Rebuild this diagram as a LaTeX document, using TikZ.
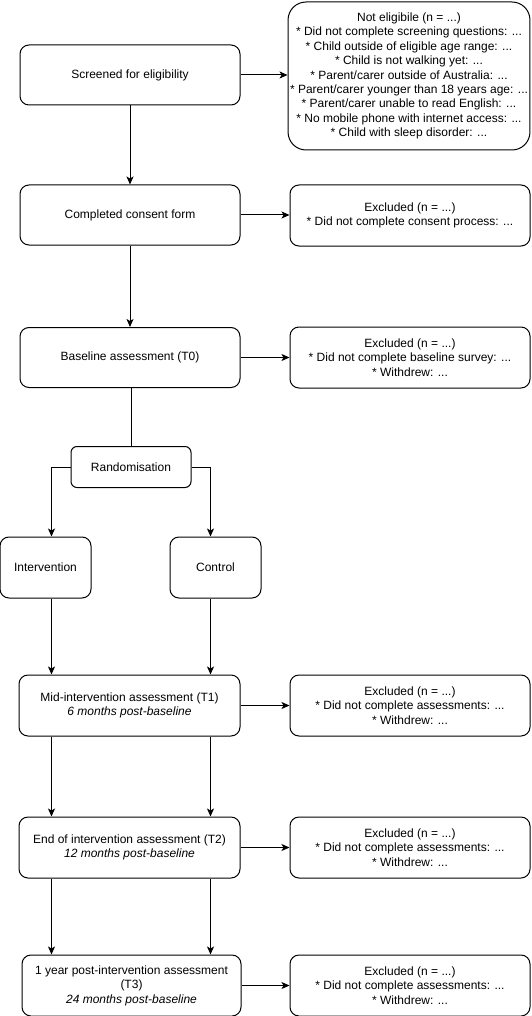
\documentclass[tikz,border=0pt]{standalone}
\usepackage{fontspec}
\setmainfont{Liberation Sans}
\usetikzlibrary{arrows.meta}
\begin{document}
\begin{tikzpicture}[x=1pt,y=-1pt,
  box/.style={draw,line width=1pt,rounded corners=9pt,align=center,inner sep=2pt,
    font=\fontsize{12}{14.4}\selectfont},
  arr/.style={line width=1pt,-{Stealth[length=8pt,width=7pt,inset=2pt]}},
  ln/.style={line width=1pt}]
\useasboundingbox (0,0) rectangle (531,1016);
% main column
\node[box,minimum width=220pt,minimum height=60pt] (screen) at (130,75) {Screened for eligibility};
\node[box,minimum width=220pt,minimum height=60pt] (consent) at (130,215) {Completed consent form};
\node[box,minimum width=220pt,minimum height=60pt] (baseline) at (130,357.5) {Baseline assessment (T0)};
\node[box,rounded corners=6pt,minimum width=120pt,minimum height=41pt] (rand) at (131,467) {Randomisation};
\node[box,minimum width=91pt,minimum height=61pt] (interv) at (45.5,567.5) {Intervention};
\node[box,minimum width=91pt,minimum height=61pt] (control) at (215.5,567.5) {Control};
\node[box,minimum width=221pt,minimum height=61pt] (mid) at (129.5,705.5) {Mid-intervention assessment (T1)\\\textit{6 months post-baseline}};
\node[box,minimum width=221pt,minimum height=61pt] (endi) at (129.5,847.5) {End of intervention assessment (T2)\\\textit{12 months post-baseline}};
\node[box,minimum width=219pt,minimum height=61pt] (post) at (131.5,985.5) {1 year post-intervention assessment\\(T3)\\\textit{24 months post-baseline}};
% side column
\node[box,rounded corners=18pt,minimum width=238pt,minimum height=148pt] (nelig) at (409,76) {Not eligibile (n = ...)\\
* Did not complete screening questions: ...\\
* Child outside of eligible age range: ...\\
* Child is not walking yet: ...\\
* Parent/carer outside of Australia: ...\\
* Parent/carer younger than 18 years age: ...\\
* Parent/carer unable to read English: ...\\
* No mobile phone with internet access: ...\\
* Child with sleep disorder: ...};
\node[box,minimum width=240pt,minimum height=61pt] (ex1) at (410,215.5) {Excluded (n = ...)\\* Did not complete consent process: ...};
\node[box,minimum width=240pt,minimum height=61pt] (ex2) at (410,357.5) {Excluded (n = ...)\\* Did not complete baseline survey: ...\\* Withdrew: ...};
\node[box,minimum width=240pt,minimum height=61pt] (ex3) at (410,705.5) {Excluded (n = ...)\\* Did not complete assessments: ...\\* Withdrew: ...};
\node[box,minimum width=240pt,minimum height=61pt] (ex4) at (410,847.5) {Excluded (n = ...)\\* Did not complete assessments: ...\\* Withdrew: ...};
\node[box,minimum width=240pt,minimum height=61pt] (ex5) at (410,985.5) {Excluded (n = ...)\\* Did not complete assessments: ...\\* Withdrew: ...};
% lanes
\coordinate (laneL) at (51.5,0);
\coordinate (laneR) at (210.5,0);
% connectors
\draw[arr] (screen.east) -- (screen.east -| nelig.west);
\draw[arr] (consent.east) -- (consent.east -| ex1.west);
\draw[arr] (baseline.east) -- (baseline.east -| ex2.west);
\draw[arr] (mid.east) -- (mid.east -| ex3.west);
\draw[arr] (endi.east) -- (endi.east -| ex4.west);
\draw[arr] (post.east) -- (post.east -| ex5.west);
\draw[arr] (screen) -- (consent);
\draw[arr] (consent) -- (baseline);
\draw[ln] (baseline.south -| rand.north) -- (rand.north);
\draw[arr] (rand.west) -| (interv.north -| laneL);
\draw[arr] (rand.east) -| (control.north -| laneR);
\draw[arr] (interv.south -| laneL) -- (mid.north -| laneL);
\draw[arr] (control.south -| laneR) -- (mid.north -| laneR);
\draw[arr] (mid.south -| laneL) -- (endi.north -| laneL);
\draw[arr] (mid.south -| laneR) -- (endi.north -| laneR);
\draw[arr] (endi.south -| laneL) -- (post.north -| laneL);
\draw[arr] (endi.south -| laneR) -- (post.north -| laneR);
\end{tikzpicture}
\end{document}
